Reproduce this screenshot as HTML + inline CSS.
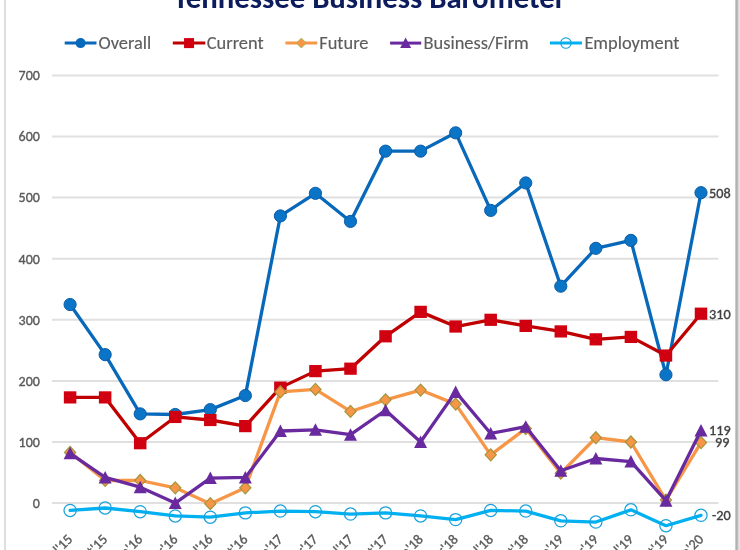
<!DOCTYPE html><html><head><meta charset="utf-8"><title>Tennessee Business Barometer</title><style>
html,body{margin:0;padding:0;background:#fff;}body{width:740px;height:550px;overflow:hidden;position:relative;}
svg{position:absolute;left:0;top:0;display:block;filter:blur(0.45px)}
text{font-family:Carlito,"Liberation Sans",sans-serif;stroke-width:0.35px;paint-order:stroke}
</style></head><body>
<svg width="740" height="550" viewBox="0 0 740 550">
<rect x="0" y="0" width="740" height="550" fill="#fff"/>
<rect x="4" y="0" width="2" height="550" fill="#dedede"/>
<rect x="735" y="0" width="1" height="550" fill="#cacaca"/>
<rect x="736" y="0" width="1" height="550" fill="#b2b2b2"/>
<rect x="737" y="0" width="1" height="550" fill="#bcbcbc"/>
<rect x="738" y="0" width="1" height="550" fill="#d8d8d8"/>
<rect x="739" y="0" width="1" height="550" fill="#e6e6e6"/>
<text textLength="392.48" lengthAdjust="spacingAndGlyphs" x="369.4" y="8" text-anchor="middle" font-weight="bold" font-size="30.75" fill="#0c1c5c">Tennessee Business Barometer</text>
<line x1="52" x2="718.5" y1="503.1" y2="503.1" stroke="#e0e0e0" stroke-width="2"/>
<text textLength="7.11" lengthAdjust="spacingAndGlyphs" x="39.9" y="507.9" text-anchor="end" font-size="14" fill="#595959" stroke="#595959">0</text>
<line x1="52" x2="718.5" y1="442.0" y2="442.0" stroke="#e0e0e0" stroke-width="2"/>
<text textLength="21.30" lengthAdjust="spacingAndGlyphs" x="39.9" y="446.8" text-anchor="end" font-size="14" fill="#595959" stroke="#595959">100</text>
<line x1="52" x2="718.5" y1="380.9" y2="380.9" stroke="#e0e0e0" stroke-width="2"/>
<text textLength="21.30" lengthAdjust="spacingAndGlyphs" x="39.9" y="385.7" text-anchor="end" font-size="14" fill="#595959" stroke="#595959">200</text>
<line x1="52" x2="718.5" y1="319.8" y2="319.8" stroke="#e0e0e0" stroke-width="2"/>
<text textLength="21.30" lengthAdjust="spacingAndGlyphs" x="39.9" y="324.6" text-anchor="end" font-size="14" fill="#595959" stroke="#595959">300</text>
<line x1="52" x2="718.5" y1="258.7" y2="258.7" stroke="#e0e0e0" stroke-width="2"/>
<text textLength="21.30" lengthAdjust="spacingAndGlyphs" x="39.9" y="263.5" text-anchor="end" font-size="14" fill="#595959" stroke="#595959">400</text>
<line x1="52" x2="718.5" y1="197.6" y2="197.6" stroke="#e0e0e0" stroke-width="2"/>
<text textLength="21.30" lengthAdjust="spacingAndGlyphs" x="39.9" y="202.4" text-anchor="end" font-size="14" fill="#595959" stroke="#595959">500</text>
<line x1="52" x2="718.5" y1="136.5" y2="136.5" stroke="#e0e0e0" stroke-width="2"/>
<text textLength="21.30" lengthAdjust="spacingAndGlyphs" x="39.9" y="141.3" text-anchor="end" font-size="14" fill="#595959" stroke="#595959">600</text>
<line x1="52" x2="718.5" y1="75.4" y2="75.4" stroke="#e0e0e0" stroke-width="2"/>
<text textLength="21.30" lengthAdjust="spacingAndGlyphs" x="39.9" y="80.2" text-anchor="end" font-size="14" fill="#595959" stroke="#595959">700</text>
<text textLength="32.75" lengthAdjust="spacingAndGlyphs" transform="translate(67.0,533.8) rotate(-45)" text-anchor="end" font-size="14.2" fill="#595959" stroke="#595959" dy="9">Jul'15</text>
<text textLength="37.67" lengthAdjust="spacingAndGlyphs" transform="translate(102.0,533.8) rotate(-45)" text-anchor="end" font-size="14.2" fill="#595959" stroke="#595959" dy="9">Oct'15</text>
<text textLength="36.30" lengthAdjust="spacingAndGlyphs" transform="translate(137.1,533.8) rotate(-45)" text-anchor="end" font-size="14.2" fill="#595959" stroke="#595959" dy="9">Jan'16</text>
<text textLength="38.12" lengthAdjust="spacingAndGlyphs" transform="translate(172.2,533.8) rotate(-45)" text-anchor="end" font-size="14.2" fill="#595959" stroke="#595959" dy="9">Apr'16</text>
<text textLength="32.75" lengthAdjust="spacingAndGlyphs" transform="translate(207.2,533.8) rotate(-45)" text-anchor="end" font-size="14.2" fill="#595959" stroke="#595959" dy="9">Jul'16</text>
<text textLength="37.67" lengthAdjust="spacingAndGlyphs" transform="translate(242.2,533.8) rotate(-45)" text-anchor="end" font-size="14.2" fill="#595959" stroke="#595959" dy="9">Oct'16</text>
<text textLength="36.30" lengthAdjust="spacingAndGlyphs" transform="translate(277.3,533.8) rotate(-45)" text-anchor="end" font-size="14.2" fill="#595959" stroke="#595959" dy="9">Jan'17</text>
<text textLength="38.12" lengthAdjust="spacingAndGlyphs" transform="translate(312.3,533.8) rotate(-45)" text-anchor="end" font-size="14.2" fill="#595959" stroke="#595959" dy="9">Apr'17</text>
<text textLength="32.75" lengthAdjust="spacingAndGlyphs" transform="translate(347.4,533.8) rotate(-45)" text-anchor="end" font-size="14.2" fill="#595959" stroke="#595959" dy="9">Jul'17</text>
<text textLength="37.67" lengthAdjust="spacingAndGlyphs" transform="translate(382.4,533.8) rotate(-45)" text-anchor="end" font-size="14.2" fill="#595959" stroke="#595959" dy="9">Oct'17</text>
<text textLength="36.30" lengthAdjust="spacingAndGlyphs" transform="translate(417.5,533.8) rotate(-45)" text-anchor="end" font-size="14.2" fill="#595959" stroke="#595959" dy="9">Jan'18</text>
<text textLength="38.12" lengthAdjust="spacingAndGlyphs" transform="translate(452.5,533.8) rotate(-45)" text-anchor="end" font-size="14.2" fill="#595959" stroke="#595959" dy="9">Apr'18</text>
<text textLength="32.75" lengthAdjust="spacingAndGlyphs" transform="translate(487.6,533.8) rotate(-45)" text-anchor="end" font-size="14.2" fill="#595959" stroke="#595959" dy="9">Jul'18</text>
<text textLength="37.67" lengthAdjust="spacingAndGlyphs" transform="translate(522.6,533.8) rotate(-45)" text-anchor="end" font-size="14.2" fill="#595959" stroke="#595959" dy="9">Oct'18</text>
<text textLength="36.30" lengthAdjust="spacingAndGlyphs" transform="translate(557.7,533.8) rotate(-45)" text-anchor="end" font-size="14.2" fill="#595959" stroke="#595959" dy="9">Jan'19</text>
<text textLength="38.12" lengthAdjust="spacingAndGlyphs" transform="translate(592.8,533.8) rotate(-45)" text-anchor="end" font-size="14.2" fill="#595959" stroke="#595959" dy="9">Apr'19</text>
<text textLength="32.75" lengthAdjust="spacingAndGlyphs" transform="translate(627.8,533.8) rotate(-45)" text-anchor="end" font-size="14.2" fill="#595959" stroke="#595959" dy="9">Jul'19</text>
<text textLength="37.67" lengthAdjust="spacingAndGlyphs" transform="translate(662.8,533.8) rotate(-45)" text-anchor="end" font-size="14.2" fill="#595959" stroke="#595959" dy="9">Oct'19</text>
<text textLength="36.30" lengthAdjust="spacingAndGlyphs" transform="translate(697.9,533.8) rotate(-45)" text-anchor="end" font-size="14.2" fill="#595959" stroke="#595959" dy="9">Jan'20</text>
<polyline points="70.10,304.53 105.15,354.63 140.20,413.89 175.25,414.50 210.30,409.62 245.35,395.56 280.40,215.93 315.45,193.32 350.50,221.43 385.55,151.16 420.60,151.16 455.65,132.83 490.70,210.43 525.75,182.94 560.80,286.20 595.85,248.31 630.90,240.37 665.95,374.79 701.00,192.71" fill="none" stroke="#0868ba" stroke-width="3.3" stroke-linejoin="round" stroke-linecap="round"/>
<circle cx="70.10" cy="304.53" r="6.1" fill="#0a74c6" stroke="#0b5ca8" stroke-width="1"/>
<circle cx="105.15" cy="354.63" r="6.1" fill="#0a74c6" stroke="#0b5ca8" stroke-width="1"/>
<circle cx="140.20" cy="413.89" r="6.1" fill="#0a74c6" stroke="#0b5ca8" stroke-width="1"/>
<circle cx="175.25" cy="414.50" r="6.1" fill="#0a74c6" stroke="#0b5ca8" stroke-width="1"/>
<circle cx="210.30" cy="409.62" r="6.1" fill="#0a74c6" stroke="#0b5ca8" stroke-width="1"/>
<circle cx="245.35" cy="395.56" r="6.1" fill="#0a74c6" stroke="#0b5ca8" stroke-width="1"/>
<circle cx="280.40" cy="215.93" r="6.1" fill="#0a74c6" stroke="#0b5ca8" stroke-width="1"/>
<circle cx="315.45" cy="193.32" r="6.1" fill="#0a74c6" stroke="#0b5ca8" stroke-width="1"/>
<circle cx="350.50" cy="221.43" r="6.1" fill="#0a74c6" stroke="#0b5ca8" stroke-width="1"/>
<circle cx="385.55" cy="151.16" r="6.1" fill="#0a74c6" stroke="#0b5ca8" stroke-width="1"/>
<circle cx="420.60" cy="151.16" r="6.1" fill="#0a74c6" stroke="#0b5ca8" stroke-width="1"/>
<circle cx="455.65" cy="132.83" r="6.1" fill="#0a74c6" stroke="#0b5ca8" stroke-width="1"/>
<circle cx="490.70" cy="210.43" r="6.1" fill="#0a74c6" stroke="#0b5ca8" stroke-width="1"/>
<circle cx="525.75" cy="182.94" r="6.1" fill="#0a74c6" stroke="#0b5ca8" stroke-width="1"/>
<circle cx="560.80" cy="286.20" r="6.1" fill="#0a74c6" stroke="#0b5ca8" stroke-width="1"/>
<circle cx="595.85" cy="248.31" r="6.1" fill="#0a74c6" stroke="#0b5ca8" stroke-width="1"/>
<circle cx="630.90" cy="240.37" r="6.1" fill="#0a74c6" stroke="#0b5ca8" stroke-width="1"/>
<circle cx="665.95" cy="374.79" r="6.1" fill="#0a74c6" stroke="#0b5ca8" stroke-width="1"/>
<circle cx="701.00" cy="192.71" r="6.1" fill="#0a74c6" stroke="#0b5ca8" stroke-width="1"/>
<polyline points="70.10,397.40 105.15,397.40 140.20,443.22 175.25,416.95 210.30,420.00 245.35,426.11 280.40,387.62 315.45,371.12 350.50,368.68 385.55,336.30 420.60,311.86 455.65,326.52 490.70,319.80 525.75,325.91 560.80,331.41 595.85,339.35 630.90,336.91 665.95,355.54 701.00,313.69" fill="none" stroke="#c00000" stroke-width="3.3" stroke-linejoin="round" stroke-linecap="round"/>
<rect x="63.85" y="391.30" width="12.5" height="12.2" fill="#d00010"/>
<rect x="98.90" y="391.30" width="12.5" height="12.2" fill="#d00010"/>
<rect x="133.95" y="437.12" width="12.5" height="12.2" fill="#d00010"/>
<rect x="169.00" y="410.85" width="12.5" height="12.2" fill="#d00010"/>
<rect x="204.05" y="413.90" width="12.5" height="12.2" fill="#d00010"/>
<rect x="239.10" y="420.01" width="12.5" height="12.2" fill="#d00010"/>
<rect x="274.15" y="381.52" width="12.5" height="12.2" fill="#d00010"/>
<rect x="309.20" y="365.02" width="12.5" height="12.2" fill="#d00010"/>
<rect x="344.25" y="362.58" width="12.5" height="12.2" fill="#d00010"/>
<rect x="379.30" y="330.20" width="12.5" height="12.2" fill="#d00010"/>
<rect x="414.35" y="305.76" width="12.5" height="12.2" fill="#d00010"/>
<rect x="449.40" y="320.42" width="12.5" height="12.2" fill="#d00010"/>
<rect x="484.45" y="313.70" width="12.5" height="12.2" fill="#d00010"/>
<rect x="519.50" y="319.81" width="12.5" height="12.2" fill="#d00010"/>
<rect x="554.55" y="325.31" width="12.5" height="12.2" fill="#d00010"/>
<rect x="589.60" y="333.25" width="12.5" height="12.2" fill="#d00010"/>
<rect x="624.65" y="330.81" width="12.5" height="12.2" fill="#d00010"/>
<rect x="659.70" y="349.44" width="12.5" height="12.2" fill="#d00010"/>
<rect x="694.75" y="307.59" width="12.5" height="12.2" fill="#d00010"/>
<polyline points="70.10,452.39 105.15,480.49 140.20,480.49 175.25,487.83 210.30,503.71 245.35,487.83 280.40,391.90 315.45,389.45 350.50,411.45 385.55,399.84 420.60,390.07 455.65,404.12 490.70,454.83 525.75,428.56 560.80,473.16 595.85,437.72 630.90,442.00 665.95,500.05 701.00,442.61" fill="none" stroke="#f79646" stroke-width="3.3" stroke-linejoin="round" stroke-linecap="round"/>
<polygon points="70.10,446.39 75.70,452.39 70.10,458.39 64.50,452.39" fill="#f79646" stroke="#a2963e" stroke-width="1.2"/>
<polygon points="105.15,474.49 110.75,480.49 105.15,486.49 99.55,480.49" fill="#f79646" stroke="#a2963e" stroke-width="1.2"/>
<polygon points="140.20,474.49 145.80,480.49 140.20,486.49 134.60,480.49" fill="#f79646" stroke="#a2963e" stroke-width="1.2"/>
<polygon points="175.25,481.83 180.85,487.83 175.25,493.83 169.65,487.83" fill="#f79646" stroke="#a2963e" stroke-width="1.2"/>
<polygon points="210.30,497.71 215.90,503.71 210.30,509.71 204.70,503.71" fill="#f79646" stroke="#a2963e" stroke-width="1.2"/>
<polygon points="245.35,481.83 250.95,487.83 245.35,493.83 239.75,487.83" fill="#f79646" stroke="#a2963e" stroke-width="1.2"/>
<polygon points="280.40,385.90 286.00,391.90 280.40,397.90 274.80,391.90" fill="#f79646" stroke="#a2963e" stroke-width="1.2"/>
<polygon points="315.45,383.45 321.05,389.45 315.45,395.45 309.85,389.45" fill="#f79646" stroke="#a2963e" stroke-width="1.2"/>
<polygon points="350.50,405.45 356.10,411.45 350.50,417.45 344.90,411.45" fill="#f79646" stroke="#a2963e" stroke-width="1.2"/>
<polygon points="385.55,393.84 391.15,399.84 385.55,405.84 379.95,399.84" fill="#f79646" stroke="#a2963e" stroke-width="1.2"/>
<polygon points="420.60,384.07 426.20,390.07 420.60,396.07 415.00,390.07" fill="#f79646" stroke="#a2963e" stroke-width="1.2"/>
<polygon points="455.65,398.12 461.25,404.12 455.65,410.12 450.05,404.12" fill="#f79646" stroke="#a2963e" stroke-width="1.2"/>
<polygon points="490.70,448.83 496.30,454.83 490.70,460.83 485.10,454.83" fill="#f79646" stroke="#a2963e" stroke-width="1.2"/>
<polygon points="525.75,422.56 531.35,428.56 525.75,434.56 520.15,428.56" fill="#f79646" stroke="#a2963e" stroke-width="1.2"/>
<polygon points="560.80,467.16 566.40,473.16 560.80,479.16 555.20,473.16" fill="#f79646" stroke="#a2963e" stroke-width="1.2"/>
<polygon points="595.85,431.72 601.45,437.72 595.85,443.72 590.25,437.72" fill="#f79646" stroke="#a2963e" stroke-width="1.2"/>
<polygon points="630.90,436.00 636.50,442.00 630.90,448.00 625.30,442.00" fill="#f79646" stroke="#a2963e" stroke-width="1.2"/>
<polygon points="665.95,494.05 671.55,500.05 665.95,506.05 660.35,500.05" fill="#f79646" stroke="#a2963e" stroke-width="1.2"/>
<polygon points="701.00,436.61 706.60,442.61 701.00,448.61 695.40,442.61" fill="#f79646" stroke="#a2963e" stroke-width="1.2"/>
<polyline points="70.10,453.30 105.15,477.44 140.20,487.21 175.25,503.10 210.30,478.05 245.35,477.44 280.40,431.00 315.45,429.78 350.50,434.67 385.55,410.23 420.60,442.00 455.65,391.90 490.70,433.45 525.75,426.73 560.80,470.72 595.85,458.50 630.90,461.55 665.95,500.66 701.00,430.39" fill="none" stroke="#682a9e" stroke-width="3.3" stroke-linejoin="round" stroke-linecap="round"/>
<polygon points="70.10,446.80 76.60,459.30 63.60,459.30" fill="#682a9e"/>
<polygon points="105.15,470.94 111.65,483.44 98.65,483.44" fill="#682a9e"/>
<polygon points="140.20,480.71 146.70,493.21 133.70,493.21" fill="#682a9e"/>
<polygon points="175.25,496.60 181.75,509.10 168.75,509.10" fill="#682a9e"/>
<polygon points="210.30,471.55 216.80,484.05 203.80,484.05" fill="#682a9e"/>
<polygon points="245.35,470.94 251.85,483.44 238.85,483.44" fill="#682a9e"/>
<polygon points="280.40,424.50 286.90,437.00 273.90,437.00" fill="#682a9e"/>
<polygon points="315.45,423.28 321.95,435.78 308.95,435.78" fill="#682a9e"/>
<polygon points="350.50,428.17 357.00,440.67 344.00,440.67" fill="#682a9e"/>
<polygon points="385.55,403.73 392.05,416.23 379.05,416.23" fill="#682a9e"/>
<polygon points="420.60,435.50 427.10,448.00 414.10,448.00" fill="#682a9e"/>
<polygon points="455.65,385.40 462.15,397.90 449.15,397.90" fill="#682a9e"/>
<polygon points="490.70,426.95 497.20,439.45 484.20,439.45" fill="#682a9e"/>
<polygon points="525.75,420.23 532.25,432.73 519.25,432.73" fill="#682a9e"/>
<polygon points="560.80,464.22 567.30,476.72 554.30,476.72" fill="#682a9e"/>
<polygon points="595.85,452.00 602.35,464.50 589.35,464.50" fill="#682a9e"/>
<polygon points="630.90,455.05 637.40,467.55 624.40,467.55" fill="#682a9e"/>
<polygon points="665.95,494.16 672.45,506.66 659.45,506.66" fill="#682a9e"/>
<polygon points="701.00,423.89 707.50,436.39 694.50,436.39" fill="#682a9e"/>
<polyline points="70.10,510.43 105.15,507.99 140.20,511.65 175.25,515.93 210.30,517.15 245.35,512.88 280.40,511.04 315.45,511.65 350.50,514.10 385.55,512.88 420.60,515.93 455.65,519.60 490.70,510.43 525.75,511.04 560.80,520.82 595.85,522.04 630.90,509.82 665.95,525.71 701.00,515.32" fill="none" stroke="#00b0f0" stroke-width="3.3" stroke-linejoin="round" stroke-linecap="round"/>
<circle cx="70.10" cy="510.43" r="6.1" fill="none" stroke="#1aa2dc" stroke-width="1.25"/>
<circle cx="105.15" cy="507.99" r="6.1" fill="none" stroke="#1aa2dc" stroke-width="1.25"/>
<circle cx="140.20" cy="511.65" r="6.1" fill="none" stroke="#1aa2dc" stroke-width="1.25"/>
<circle cx="175.25" cy="515.93" r="6.1" fill="none" stroke="#1aa2dc" stroke-width="1.25"/>
<circle cx="210.30" cy="517.15" r="6.1" fill="none" stroke="#1aa2dc" stroke-width="1.25"/>
<circle cx="245.35" cy="512.88" r="6.1" fill="none" stroke="#1aa2dc" stroke-width="1.25"/>
<circle cx="280.40" cy="511.04" r="6.1" fill="none" stroke="#1aa2dc" stroke-width="1.25"/>
<circle cx="315.45" cy="511.65" r="6.1" fill="none" stroke="#1aa2dc" stroke-width="1.25"/>
<circle cx="350.50" cy="514.10" r="6.1" fill="none" stroke="#1aa2dc" stroke-width="1.25"/>
<circle cx="385.55" cy="512.88" r="6.1" fill="none" stroke="#1aa2dc" stroke-width="1.25"/>
<circle cx="420.60" cy="515.93" r="6.1" fill="none" stroke="#1aa2dc" stroke-width="1.25"/>
<circle cx="455.65" cy="519.60" r="6.1" fill="none" stroke="#1aa2dc" stroke-width="1.25"/>
<circle cx="490.70" cy="510.43" r="6.1" fill="none" stroke="#1aa2dc" stroke-width="1.25"/>
<circle cx="525.75" cy="511.04" r="6.1" fill="none" stroke="#1aa2dc" stroke-width="1.25"/>
<circle cx="560.80" cy="520.82" r="6.1" fill="none" stroke="#1aa2dc" stroke-width="1.25"/>
<circle cx="595.85" cy="522.04" r="6.1" fill="none" stroke="#1aa2dc" stroke-width="1.25"/>
<circle cx="630.90" cy="509.82" r="6.1" fill="none" stroke="#1aa2dc" stroke-width="1.25"/>
<circle cx="665.95" cy="525.71" r="6.1" fill="none" stroke="#1aa2dc" stroke-width="1.25"/>
<circle cx="701.00" cy="515.32" r="6.1" fill="none" stroke="#1aa2dc" stroke-width="1.25"/>
<text textLength="21.58" lengthAdjust="spacingAndGlyphs" x="709" y="197.5" font-size="14.2" fill="#404040" stroke="#404040">508</text>
<text textLength="21.58" lengthAdjust="spacingAndGlyphs" x="709" y="318.5" font-size="14.2" fill="#404040" stroke="#404040">310</text>
<text textLength="21.58" lengthAdjust="spacingAndGlyphs" x="709" y="435.2" font-size="14.2" fill="#404040" stroke="#404040">119</text>
<text textLength="14.39" lengthAdjust="spacingAndGlyphs" x="715" y="447.0" font-size="14.2" fill="#404040" stroke="#404040">99</text>
<text textLength="18.73" lengthAdjust="spacingAndGlyphs" x="712" y="520.1" font-size="14.2" fill="#404040" stroke="#404040">-20</text>
<line x1="64.7" x2="96.5" y1="43.1" y2="43.1" stroke="#0868ba" stroke-width="3"/>
<circle cx="80.6" cy="43.1" r="5" fill="#0868ba"/>
<text textLength="52.75" lengthAdjust="spacingAndGlyphs" x="98.5" y="49.4" font-size="18.4" fill="#5c5c5c" stroke="#5c5c5c" style="stroke-width:0.15px">Overall</text>
<line x1="172.8" x2="205.3" y1="43.1" y2="43.1" stroke="#c00000" stroke-width="3"/>
<rect x="184.05" y="38.1" width="10" height="10" fill="#d00010"/>
<text textLength="56.86" lengthAdjust="spacingAndGlyphs" x="206.8" y="49.4" font-size="18.4" fill="#5c5c5c" stroke="#5c5c5c" style="stroke-width:0.15px">Current</text>
<line x1="285.4" x2="317.2" y1="43.1" y2="43.1" stroke="#f79646" stroke-width="3"/>
<polygon points="301.29999999999995,38.1 306.29999999999995,43.1 301.29999999999995,48.1 296.29999999999995,43.1" fill="#f79646" stroke="#9bbb59" stroke-width="0.8"/>
<text textLength="49.27" lengthAdjust="spacingAndGlyphs" x="319.2" y="49.4" font-size="18.4" fill="#5c5c5c" stroke="#5c5c5c" style="stroke-width:0.15px">Future</text>
<line x1="390.1" x2="421.2" y1="43.1" y2="43.1" stroke="#682a9e" stroke-width="3"/>
<polygon points="405.65,37.6 411.15,48.1 400.15,48.1" fill="#682a9e"/>
<text textLength="105.16" lengthAdjust="spacingAndGlyphs" x="423.6" y="49.4" font-size="18.4" fill="#5c5c5c" stroke="#5c5c5c" style="stroke-width:0.15px">Business/Firm</text>
<line x1="549.9" x2="581.9" y1="43.1" y2="43.1" stroke="#00b0f0" stroke-width="3"/>
<circle cx="565.9" cy="43.1" r="5.2" fill="none" stroke="#1aa2dc" stroke-width="1.1"/>
<text textLength="94.98" lengthAdjust="spacingAndGlyphs" x="584.4" y="49.4" font-size="18.4" fill="#5c5c5c" stroke="#5c5c5c" style="stroke-width:0.15px">Employment</text>
</svg></body></html>
